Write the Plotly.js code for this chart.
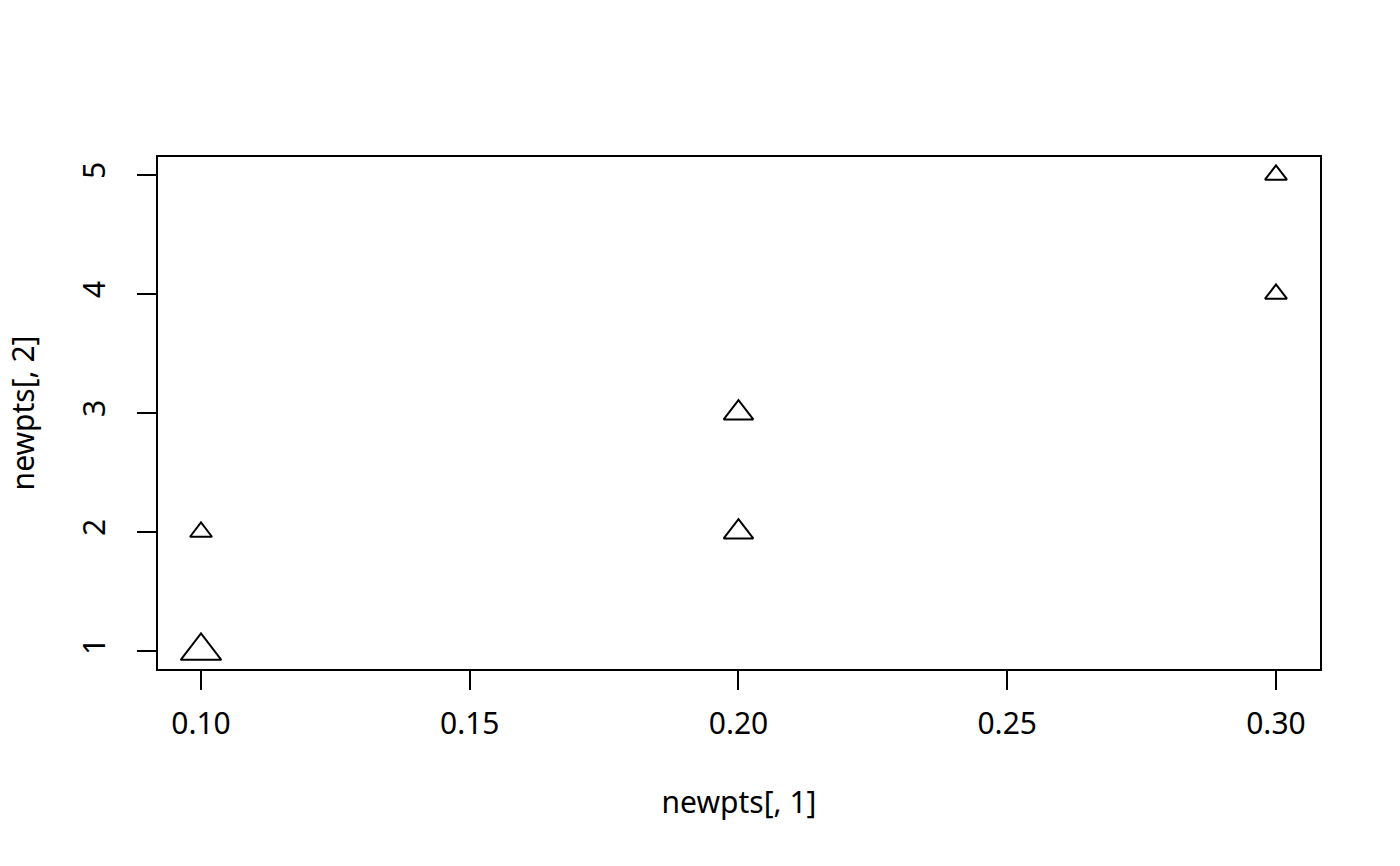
<!DOCTYPE html>
<html>
<head>
<meta charset="utf-8">
<script src="https://cdn.plot.ly/plotly-3.0.1.min.js"></script>
<style>html,body{margin:0;padding:0;background:#fff;}#chart{width:1400px;height:866px;}</style>
</head>
<body>
<div id="chart"></div>
<script>
// data
const xVals = [0.1, 0.1, 0.2, 0.2, 0.3, 0.3];
const yVals = [1, 2, 2, 3, 4, 5];
const cexVals = [1.85, 1, 1.35, 1.35, 1, 1];
const xTicks = [0.10, 0.15, 0.20, 0.25, 0.30];
const xTickText = ['0.10', '0.15', '0.20', '0.25', '0.30'];
const yTicks = [1, 2, 3, 4, 5];
const yTickText = ['1', '2', '3', '4', '5'];

const BASE = 19;
const font = {family: 'Noto Sans, Open Sans, sans-serif', size: 30, color: '#000'};

const trace = {
  type: 'scatter', mode: 'markers',
  x: xVals, y: yVals,
  marker: {
    symbol: 'triangle-up-open',
    size: cexVals.map(c => c * BASE),
    color: '#000',
    opacity: 1,
    line: {width: 2, color: '#000'}
  },
  hoverinfo: 'x+y'
};

const layout = {
  width: 1400, height: 866,
  margin: {l: 158, r: 80, t: 157, b: 197},
  paper_bgcolor: '#fff', plot_bgcolor: '#fff',
  showlegend: false,
  font: font,
  xaxis: {
    range: [0.092, 0.30819],
    tickvals: xTicks, ticktext: xTickText,
    ticks: 'outside', ticklen: 19, tickwidth: 1.8, tickcolor: '#000',
    ticklabelstandoff: 8,
    showline: true, mirror: true, linewidth: 1.8, linecolor: '#000',
    showgrid: false, zeroline: false,
    tickfont: font,
    title: {text: 'newpts[, 1]', font: font, standoff: 50},
    automargin: false, fixedrange: true
  },
  yaxis: {
    range: [0.8487, 5.151],
    tickvals: yTicks, ticktext: yTickText,
    tickangle: -90,
    ticks: 'outside', ticklen: 19, tickwidth: 1.8, tickcolor: '#000',
    ticklabelstandoff: 20,
    showline: true, mirror: true, linewidth: 1.8, linecolor: '#000',
    showgrid: false, zeroline: false,
    tickfont: font,
    title: {text: 'newpts[, 2]', font: font, standoff: 30},
    automargin: false, fixedrange: true
  }
};

Plotly.newPlot('chart', [trace], layout, {displayModeBar: false});
</script>
</body>
</html>
